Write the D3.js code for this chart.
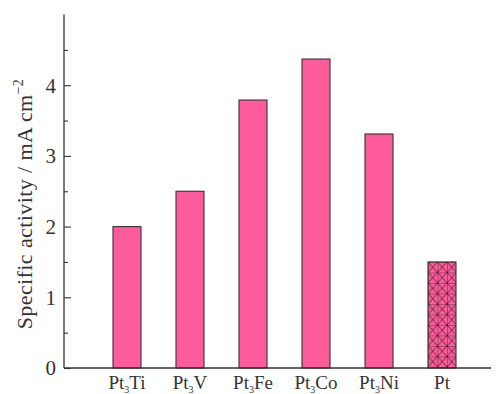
<!DOCTYPE html>
<html>
<head>
<meta charset="utf-8">
<script src="https://cdn.jsdelivr.net/npm/d3@7/dist/d3.min.js"></script>
<style>
  html, body { margin: 0; padding: 0; background: #fff; }
  svg { display: block; }
  text { font-family: "Liberation Serif", "Times New Roman", serif; fill: #333; }
</style>
</head>
<body>
<svg id="chart" width="497" height="394"></svg>
<script>
// Catalysts: base name, subscript, trailing element
const catBase = ["Pt", "Pt", "Pt", "Pt", "Pt", "Pt"];
const catSub = ["3", "3", "3", "3", "3", ""];
const catTail = ["Ti", "V", "Fe", "Co", "Ni", ""];
// Specific activity (mA cm^-2)
const activity = [2.0, 2.5, 3.79, 4.37, 3.31, 1.5];
// Which bars get the cross-hatched fill (pure Pt reference)
const hatched = [false, false, false, false, false, true];
const yMajorTicks = [0, 1, 2, 3, 4];
const yMinorTicks = [0.5, 1.5, 2.5, 3.5, 4.5];

const svg = d3.select("#chart");
const plotL = 64, plotR = 491, plotT = 14.5, plotB = 368;

// categories sit at positions 1..6 on a 0..7 axis
const x = d3.scaleLinear().domain([0, 7]).range([plotL, plotL + 63 * 7]);
const y = d3.scaleLinear().domain([0, 5]).range([plotB, plotT]);
const barW = 28;
const pink = "#fe5b9a";

// cross-hatch pattern: square grid plus diagonals
const defs = svg.append("defs");
const pat = defs.append("pattern")
  .attr("id", "xhatch")
  .attr("patternUnits", "userSpaceOnUse")
  .attr("width", 9.5).attr("height", 10.5)
  .attr("x", x(6) - barW / 2).attr("y", y(1.5));
pat.append("rect").attr("width", 9.5).attr("height", 10.5).attr("fill", pink);
pat.append("path")
  .attr("d", "M0,0H9.5M0,0V10.5M0,0L9.5,10.5M9.5,0L0,10.5")
  .attr("stroke", "#2a1a20").attr("stroke-width", 0.75).attr("fill", "none");

// bars
svg.append("g").selectAll("rect")
  .data(activity)
  .join("rect")
  .attr("x", (d, i) => x(i + 1) - barW / 2)
  .attr("y", d => y(d))
  .attr("width", barW)
  .attr("height", d => y(0) - y(d))
  .attr("fill", (d, i) => hatched[i] ? "url(#xhatch)" : pink)
  .attr("stroke", "#333")
  .attr("stroke-width", 1.1);

// y axis with inward ticks
const yAxis = svg.append("g").attr("transform", `translate(${plotL},0)`);
yAxis.append("g").call(d3.axisRight(y).tickValues(yMajorTicks).tickSize(7).tickFormat(""))
  .call(g => g.select(".domain").remove());
yAxis.append("g").call(d3.axisRight(y).tickValues(yMinorTicks).tickSize(4).tickFormat(""))
  .call(g => g.select(".domain").remove());
yAxis.selectAll("line").attr("stroke", "#333").attr("stroke-width", 1.1);
yAxis.append("line").attr("x1", 0).attr("x2", 0).attr("y1", plotT).attr("y2", plotB)
  .attr("stroke", "#333").attr("stroke-width", 1.3);

// y tick labels
svg.append("g").selectAll("text")
  .data(yMajorTicks)
  .join("text")
  .attr("x", plotL - 8)
  .attr("y", d => y(d))
  .attr("dy", "0.35em")
  .attr("text-anchor", "end")
  .attr("font-size", 21)
  .text(d => d);

// x axis line
svg.append("line")
  .attr("x1", plotL).attr("x2", plotR)
  .attr("y1", plotB).attr("y2", plotB)
  .attr("stroke", "#333").attr("stroke-width", 1.3);

// x category labels with subscripts
const xl = svg.append("g").selectAll("text")
  .data(activity)
  .join("text")
  .attr("x", (d, i) => x(i + 1))
  .attr("y", 389)
  .attr("text-anchor", "middle")
  .attr("font-size", 19);
xl.append("tspan").text((d, i) => catBase[i]);
xl.append("tspan").attr("font-size", 10).attr("dy", 4).text((d, i) => catSub[i]);
xl.append("tspan").attr("dy", (d, i) => catSub[i] ? -4 : 0).text((d, i) => catTail[i]);

// y axis title
const yt = svg.append("text")
  .attr("transform", "translate(32,204) rotate(-90)")
  .attr("text-anchor", "middle")
  .attr("font-size", 22)
  .attr("letter-spacing", 0.4);
yt.append("tspan").text("Specific activity / mA cm");
yt.append("tspan").attr("font-size", 14).attr("dy", -9).text("\u22122");
</script>
</body>
</html>
